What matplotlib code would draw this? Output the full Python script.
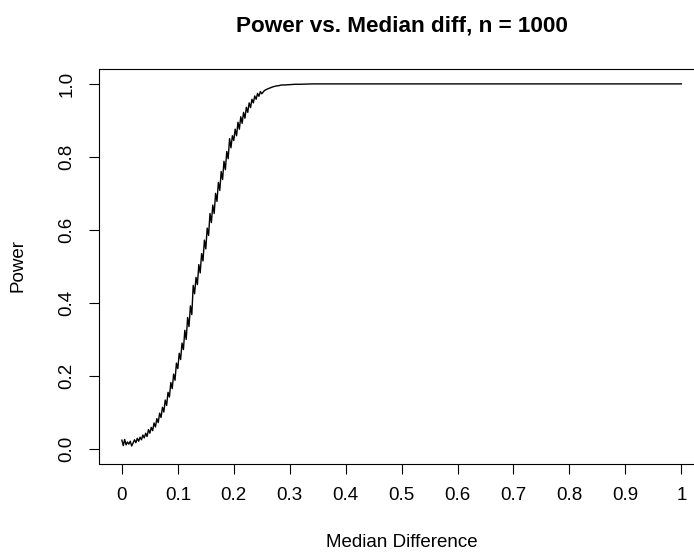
import matplotlib
matplotlib.use("Agg")
import matplotlib.pyplot as plt

plt.rcParams['font.family'] = ['Liberation Sans', 'DejaVu Sans']

# Median difference (x) and estimated power (y)
median_diff = [
    0.0000, 0.0025, 0.0050, 0.0075, 0.0100, 0.0125, 0.0150, 0.0175, 0.0200, 0.0225,
    0.0250, 0.0275, 0.0300, 0.0325, 0.0350, 0.0375, 0.0400, 0.0425, 0.0450, 0.0475,
    0.0500, 0.0525, 0.0550, 0.0575, 0.0600, 0.0625, 0.0650, 0.0675, 0.0700, 0.0725,
    0.0750, 0.0775, 0.0800, 0.0825, 0.0850, 0.0875, 0.0900, 0.0925, 0.0950, 0.0975,
    0.1000, 0.1025, 0.1050, 0.1075, 0.1100, 0.1125, 0.1150, 0.1175, 0.1200, 0.1225,
    0.1250, 0.1275, 0.1300, 0.1325, 0.1350, 0.1375, 0.1400, 0.1425, 0.1450, 0.1475,
    0.1500, 0.1525, 0.1550, 0.1575, 0.1600, 0.1625, 0.1650, 0.1675, 0.1700, 0.1725,
    0.1750, 0.1775, 0.1800, 0.1825, 0.1850, 0.1875, 0.1900, 0.1925, 0.1950, 0.1975,
    0.2000, 0.2025, 0.2050, 0.2075, 0.2100, 0.2125, 0.2150, 0.2175, 0.2200, 0.2225,
    0.2250, 0.2275, 0.2300, 0.2325, 0.2350, 0.2375, 0.2400, 0.2425, 0.2450, 0.2475,
    0.2500, 0.2550, 0.2600, 0.2650, 0.2700, 0.2750, 0.2800, 0.2850, 0.2900, 0.3000,
    0.3100, 0.3200, 0.3400, 1.0000,
]
power = [
    0.024, 0.009, 0.026, 0.011, 0.019, 0.013, 0.021, 0.008, 0.016, 0.025,
    0.017, 0.029, 0.021, 0.032, 0.025, 0.038, 0.030, 0.043, 0.034, 0.053,
    0.043, 0.059, 0.050, 0.071, 0.060, 0.083, 0.072, 0.098, 0.086, 0.114,
    0.101, 0.134, 0.119, 0.155, 0.142, 0.182, 0.165, 0.205, 0.188, 0.235,
    0.220, 0.262, 0.245, 0.290, 0.272, 0.325, 0.300, 0.360, 0.335, 0.392,
    0.368, 0.448, 0.425, 0.470, 0.450, 0.505, 0.482, 0.535, 0.515, 0.572,
    0.548, 0.605, 0.585, 0.645, 0.620, 0.668, 0.645, 0.700, 0.678, 0.730,
    0.708, 0.760, 0.738, 0.788, 0.765, 0.815, 0.795, 0.850, 0.825, 0.858,
    0.845, 0.876, 0.858, 0.895, 0.876, 0.910, 0.892, 0.922, 0.906, 0.936,
    0.922, 0.948, 0.935, 0.958, 0.948, 0.967, 0.958, 0.974, 0.966, 0.979,
    0.973, 0.982, 0.986, 0.989, 0.992, 0.994, 0.995, 0.997, 0.997, 0.998,
    0.999, 0.999, 1.000, 1.000,
]

x_ticks = [0, 0.1, 0.2, 0.3, 0.4, 0.5, 0.6, 0.7, 0.8, 0.9, 1]
x_tick_labels = ["0", "0.1", "0.2", "0.3", "0.4", "0.5", "0.6", "0.7", "0.8", "0.9", "1"]
y_ticks = [0.0, 0.2, 0.4, 0.6, 0.8, 1.0]
y_tick_labels = ["0.0", "0.2", "0.4", "0.6", "0.8", "1.0"]

W, H = 694, 553
fig = plt.figure(figsize=(W / 100, H / 100), dpi=100)
ax = fig.add_axes([99.5 / W, (H - 463.5) / H, (703.7 - 99.5) / W, (463.5 - 69.3) / H])

ax.plot(median_diff, power, color='black', linewidth=1.0)
ax.set_xlim(-0.04, 1.04)
ax.set_ylim(-0.04, 1.04)

ax.set_xticks(x_ticks)
ax.set_xticklabels(x_tick_labels)
ax.set_yticks(y_ticks)
ax.set_yticklabels(y_tick_labels, rotation=90, va='center')

for s in ax.spines.values():
    s.set_linewidth(0.8)
    s.set_color('black')

ax.tick_params(axis='both', direction='out', length=7.5, width=0.8, labelsize=13.5, colors='black')
ax.tick_params(axis='x', pad=9.5)
ax.tick_params(axis='y', pad=10)

fs = 13.5
fig.text(401.6 / W, 1 - 31.7 / H, "Power vs. Median diff, n = 1000",
         ha='center', va='baseline', fontsize=fs * 1.2, fontweight='bold')
fig.text(401.6 / W, 1 - 547.3 / H, "Median Difference",
         ha='center', va='baseline', fontsize=fs)
fig.text(17.5 / W, 1 - 266 / H, "Power", rotation=90,
         ha='center', va='center', fontsize=fs)

fig.savefig("out.png", dpi=100)
